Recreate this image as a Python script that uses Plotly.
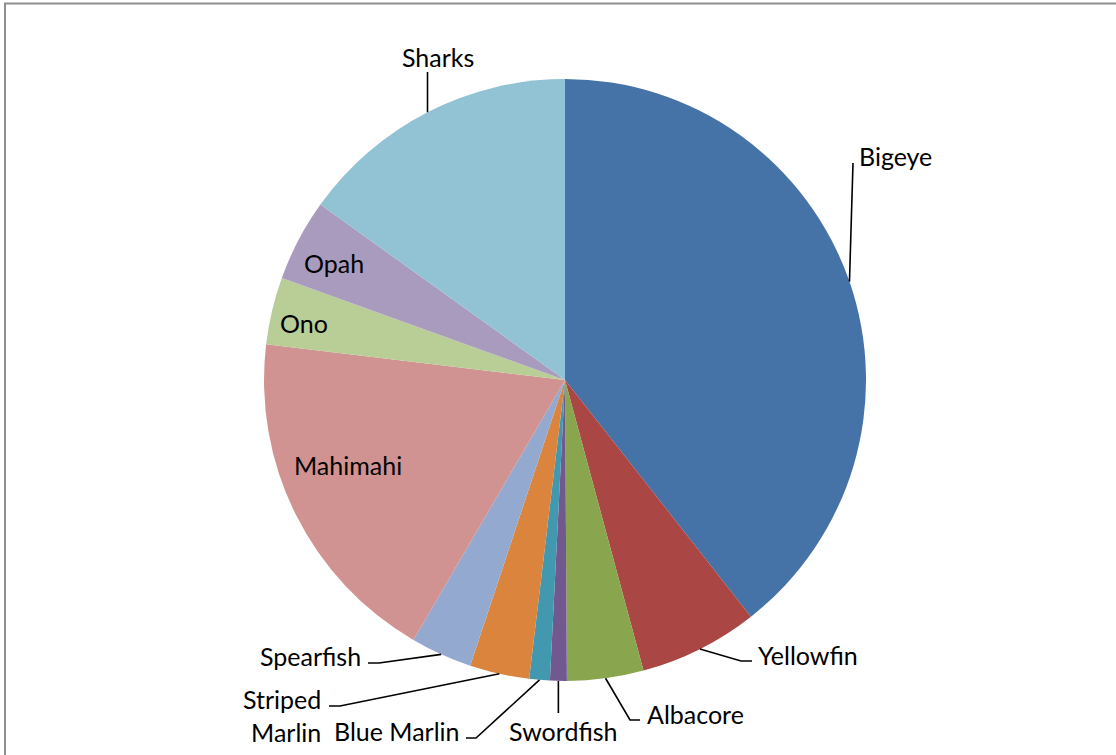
import math
import plotly.graph_objects as go

# Catch composition by species (percent of total)
species = ["Bigeye", "Yellowfin", "Albacore", "Swordfish", "Blue Marlin",
           "Striped Marlin", "Spearfish", "Mahimahi", "Ono", "Opah", "Sharks"]
share = [39.4, 6.4, 4.1, 0.9, 1.1, 3.2, 3.3, 18.5, 3.6, 4.4, 15.1]
label_text = ["Bigeye", "Yellowfin", "Albacore", "Swordfish", "Blue Marlin",
              "Striped<br>Marlin", "Spearfish", "Mahimahi", "Ono", "Opah", "Sharks"]

colors = ["#4572A7", "#AA4643", "#89A54E", "#71588F", "#4198AF", "#DB843D",
          "#93A9CF", "#D19392", "#B9CD96", "#A99BBD", "#92C3D4"]

# Canvas and pie geometry in pixels
W, H = 1116, 755
CX, CY, R = 565, 380, 301
FONT = dict(family="Lato, Calibri, sans-serif", size=25, color="#000000")


def fx(x):
    return x / W


def fy(y):
    return 1 - y / H


# Label placement: text anchor (px), horizontal anchor, and leader-line bends (px)
label_layout = {
    "Bigeye": ((857, 156), "left", [(853, 163)]),
    "Yellowfin": ((756, 655), "left", [(741, 661), (752, 661)]),
    "Albacore": ((645, 714), "left", [(630, 720), (640, 720)]),
    "Swordfish": ((563, 731), "center", [("edge", 713)]),
    "Blue Marlin": ((462, 731), "right", [(476, 738), (466, 738)]),
    "Striped Marlin": ((323, 715), "right", [(340, 706), (329, 706)]),
    "Spearfish": ((363, 656), "right", [(379, 663), (368, 663)]),
    "Mahimahi": ((348, 465), "center", None),
    "Ono": ((304, 323), "center", None),
    "Opah": ((334, 263), "center", None),
    "Sharks": ((438, 57), "center", [("edge", 72)]),
}

fig = go.Figure(go.Pie(
    labels=species,
    values=share,
    sort=False,
    direction="clockwise",
    rotation=0,
    marker=dict(colors=colors, line=dict(width=0)),
    textinfo="none",
    hoverinfo="label+percent",
    showlegend=False,
    domain=dict(x=[fx(CX - R), fx(CX + R)], y=[fy(CY + R), fy(CY - R)]),
))

annotations = []
shapes = []
total = sum(share)
cum = 0.0
for name, val, txt in zip(species, share, label_text):
    mid = (cum + val / 2) / total * 2 * math.pi
    cum += val
    ex = CX + R * math.sin(mid)
    ey = CY - R * math.cos(mid)
    (tx, ty), anchor, bends = label_layout[name]
    annotations.append(dict(
        x=fx(tx), y=fy(ty), xref="paper", yref="paper",
        text=txt, showarrow=False, xanchor=anchor, yanchor="middle",
        align="right" if anchor == "right" else "left",
        font=FONT,
    ))
    if bends:
        pts = [(ex, ey)] + [(ex if bx == "edge" else bx, by) for bx, by in bends]
        path = "M " + " L ".join(f"{fx(x):.5f},{fy(y):.5f}" for x, y in pts)
        shapes.append(dict(type="path", path=path, xref="paper", yref="paper",
                           line=dict(color="#000000", width=1.6)))

# Chart frame
shapes.append(dict(type="rect", xref="paper", yref="paper",
                   x0=fx(5), y0=fy(3.5), x1=1.05, y1=-0.05,
                   line=dict(color="#8f8f8f", width=2), fillcolor="rgba(0,0,0,0)"))

fig.update_layout(
    width=W, height=H,
    margin=dict(l=0, r=0, t=0, b=0),
    paper_bgcolor="#ffffff",
    plot_bgcolor="#ffffff",
    annotations=annotations,
    shapes=shapes,
)

fig.write_html("out.html")
